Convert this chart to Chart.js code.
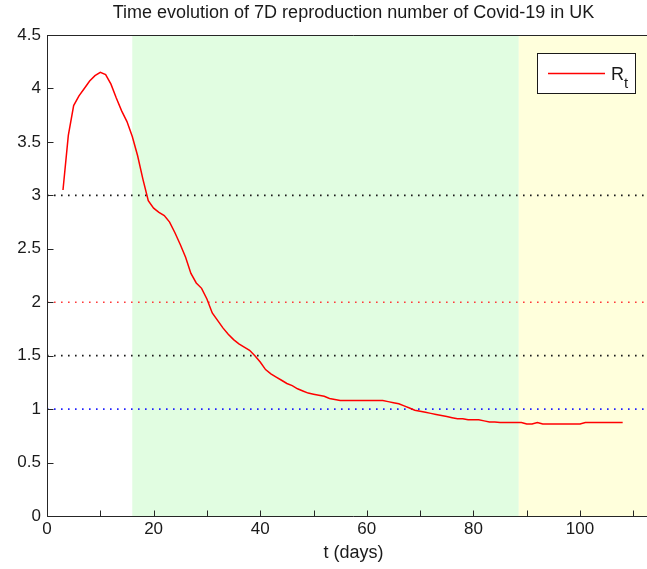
<!DOCTYPE html>
<html><head><meta charset="utf-8">
<script src="https://cdn.jsdelivr.net/npm/chart.js@4/dist/chart.umd.min.js"></script>
<style>
html,body{margin:0;padding:0;background:#fff;overflow:hidden;width:647px;height:569px}
canvas{display:block}
</style></head>
<body><canvas id="c" width="661" height="569"></canvas>
<script>
// ---- data ----
const days = [3,4,5,6,7,8,9,10,11,12,13,14,15,16,17,18,19,20,21,22,23,24,25,26,27,28,29,30,31,32,33,34,35,36,37,38,39,40,41,42,43,44,45,46,47,48,49,50,51,52,53,54,55,56,57,58,59,60,61,62,63,64,65,66,67,68,69,70,71,72,73,74,75,76,77,78,79,80,81,82,83,84,85,86,87,88,89,90,91,92,93,94,95,96,97,98,99,100,101,102,103,104,105,106,107,108];
const rt = [3.05,3.56,3.84,3.93,4.00,4.07,4.12,4.15,4.13,4.04,3.91,3.79,3.69,3.55,3.37,3.15,2.95,2.88,2.84,2.81,2.75,2.65,2.54,2.42,2.27,2.18,2.13,2.03,1.90,1.83,1.76,1.70,1.65,1.61,1.58,1.55,1.50,1.44,1.37,1.33,1.30,1.27,1.24,1.22,1.19,1.17,1.15,1.14,1.13,1.12,1.10,1.09,1.08,1.08,1.08,1.08,1.08,1.08,1.08,1.08,1.08,1.07,1.06,1.05,1.03,1.01,0.99,0.98,0.97,0.96,0.95,0.94,0.93,0.92,0.91,0.91,0.90,0.90,0.90,0.89,0.88,0.88,0.875,0.875,0.875,0.875,0.875,0.86,0.86,0.875,0.86,0.86,0.86,0.86,0.86,0.86,0.86,0.86,0.875,0.875,0.875,0.875,0.875,0.875,0.875,0.875];
const xTickValues = [0,10,20,30,40,50,60,70,80,90,100,110];
const yTickValues = [0,0.5,1,1.5,2,2.5,3,3.5,4,4.5];
const refLevels = [3,2,1.5,1];
const phaseBounds = [0,16,88.5,115];
const titleText = 'Time evolution of 7D reproduction number of Covid-19 in UK';
const xLabel = 't (days)';
const seriesName = 'R';
const seriesSub = 't';

// ---- styles ----
const FONT = "'Liberation Sans', Arial, sans-serif";
const AXIS = '#262626';
const refColors = ['#1a1a1a','#ff3a3a','#1a1a1a','#2020ff'];
const phaseColors = ['#ffffff','#e1fde1','#ffffdc'];

const refDatasets = refLevels.map((lvl,i)=>({
  label:'ref'+lvl,
  data:[{x:0,y:lvl},{x:115,y:lvl}],
  borderColor:refColors[i], borderWidth:1.6, borderDash:[1.6,5.4],
  pointRadius:0, fill:false
}));

const bgPlugin = {
  id:'bg',
  beforeDraw(chart){
    const {ctx, chartArea:a, scales:{x}} = chart;
    ctx.save();
    for(let i=0;i<phaseColors.length;i++){
      const x0 = x.getPixelForValue(phaseBounds[i]);
      const x1 = x.getPixelForValue(phaseBounds[i+1]);
      ctx.fillStyle = phaseColors[i];
      ctx.fillRect(x0, a.top, x1-x0, a.bottom-a.top);
    }
    ctx.restore();
  }
};

const frame = {
  id:'frame',
  afterDatasetsDraw(chart){
    const {ctx, chartArea:a, scales:{x,y}} = chart;
    ctx.save();
    ctx.strokeStyle = AXIS; ctx.lineWidth = 1;
    ctx.beginPath();
    const L = Math.round(a.left)+0.5, B = Math.round(a.bottom)+0.5;
    ctx.moveTo(L, a.top); ctx.lineTo(L, B);
    ctx.moveTo(L, B); ctx.lineTo(a.right, B);
    ctx.moveTo(L, a.top+0.5); ctx.lineTo(a.right, a.top+0.5);
    xTickValues.forEach(v=>{
      const px = Math.round(x.getPixelForValue(v))+0.5;
      ctx.moveTo(px, B); ctx.lineTo(px, B-6);
    });
    yTickValues.forEach(v=>{
      const py = Math.round(y.getPixelForValue(v))+0.5;
      ctx.moveTo(L, py); ctx.lineTo(L+6, py);
    });
    ctx.stroke();
    // legend box
    const bx0 = 537, by0 = 53, bx1 = 636, by1 = 94;
    ctx.fillStyle = '#fff';
    ctx.fillRect(bx0, by0, bx1-bx0, by1-by0);
    ctx.strokeStyle = '#1a1a1a';
    ctx.strokeRect(bx0+0.5, by0+0.5, bx1-bx0-1, by1-by0-1);
    ctx.strokeStyle = '#ff0000'; ctx.lineWidth = 1.5;
    ctx.beginPath(); ctx.moveTo(548, 73.5); ctx.lineTo(605, 73.5); ctx.stroke();
    ctx.fillStyle = '#1a1a1a';
    ctx.textBaseline = 'alphabetic'; ctx.textAlign = 'left';
    ctx.font = '18px ' + FONT;
    ctx.fillText(seriesName, 611, 80);
    const w = ctx.measureText(seriesName).width;
    ctx.font = '15px ' + FONT;
    ctx.fillText(seriesSub, 611 + w, 88);
    ctx.restore();
  }
};

new Chart(document.getElementById('c'), {
  type:'line',
  data:{ datasets:[
    {label:'Rt', data:days.map((d,i)=>({x:d,y:rt[i]})), borderColor:'#ff0000', borderWidth:1.5, pointRadius:0, tension:0, fill:false},
    ...refDatasets
  ]},
  options:{
    responsive:false, animation:false, devicePixelRatio:1,
    layout:{padding:{left:0,right:1,top:0,bottom:0}},
    plugins:{
      legend:{display:false},
      tooltip:{enabled:false},
      title:{display:true, text:titleText, fullSize:false, color:'#1a1a1a',
        font:{family:FONT, size:18, weight:'normal'}, lineHeight:1.2, padding:{top:2, bottom:11.4}}
    },
    scales:{
      x:{type:'linear', min:0, max:115,
        afterBuildTicks(s){ s.ticks = xTickValues.map(v=>({value:v})); },
        afterFit(s){ s.height = 53; },
        ticks:{autoSkip:false, maxRotation:0, color:'#1a1a1a', padding:3,
          font:{family:FONT, size:17},
          callback:v=> (v%20===0 ? String(v) : '')},
        grid:{display:false, drawTicks:false},
        border:{display:false},
        title:{display:true, text:xLabel, color:'#1a1a1a', font:{family:FONT, size:18}, padding:{top:2,bottom:5}}
      },
      y:{min:0, max:4.5,
        afterBuildTicks(s){ s.ticks = yTickValues.map(v=>({value:v})); },
        afterFit(s){ s.width = 47; },
        ticks:{color:'#1a1a1a', padding:6, font:{family:FONT, size:17},
          callback:v=>String(v)},
        grid:{display:false, drawTicks:false},
        border:{display:false}
      }
    }
  },
  plugins:[bgPlugin, frame]
});
</script>
</body></html>
